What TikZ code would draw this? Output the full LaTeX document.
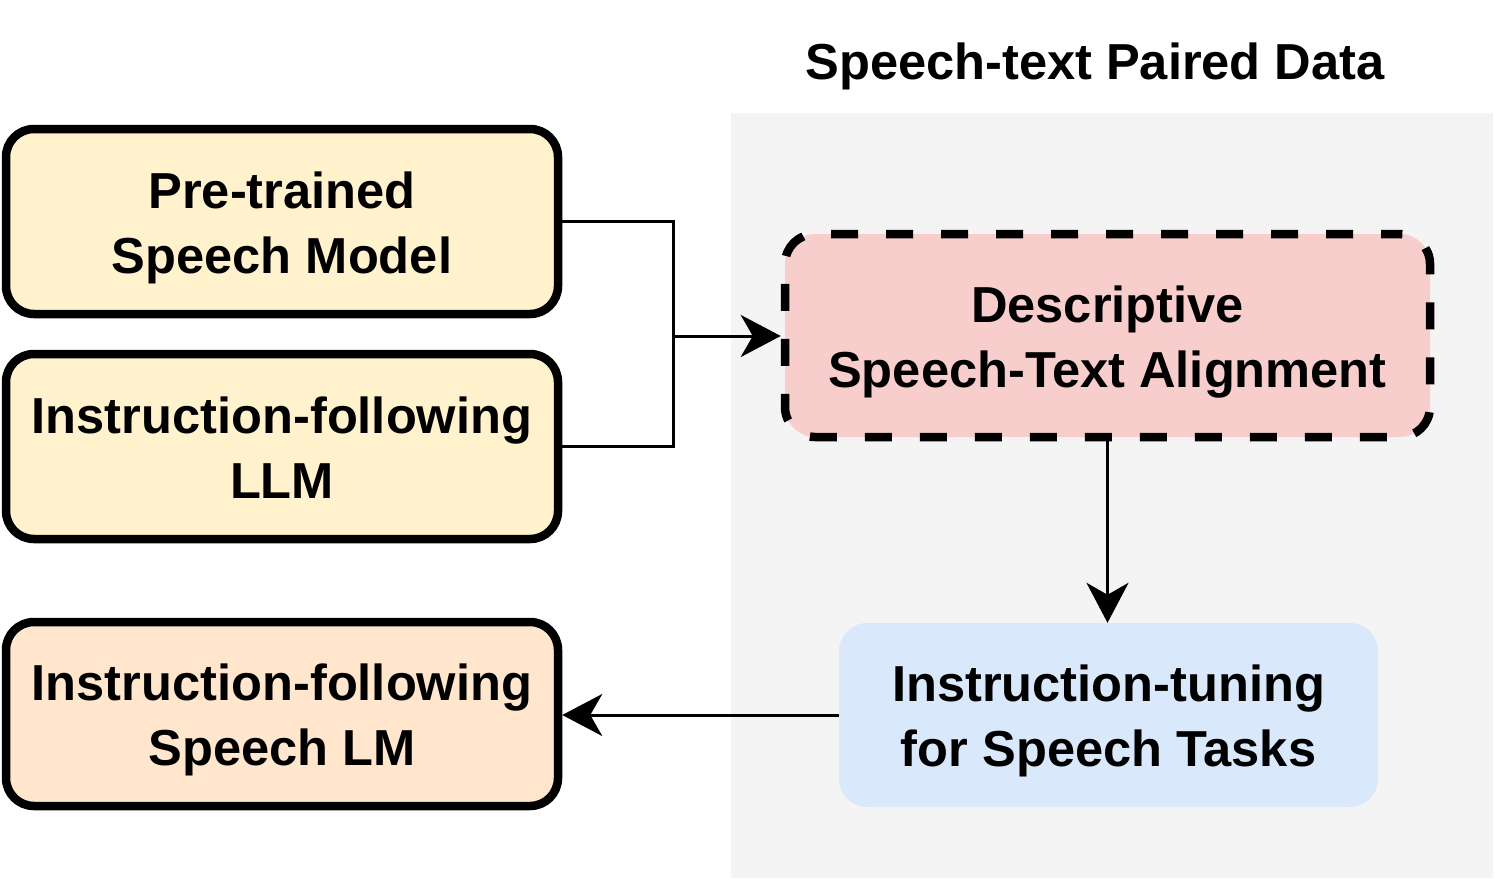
\documentclass[tikz,border=0pt]{standalone}
\usepackage{fontspec}
\setmainfont{Liberation Sans}
\usetikzlibrary{arrows.meta}
\definecolor{yel}{HTML}{FFF2CC}
\definecolor{ora}{HTML}{FFE6CC}
\definecolor{pnk}{HTML}{F8CECC}
\definecolor{blu}{HTML}{DAE8FC}
\definecolor{gry}{HTML}{F4F4F4}
\newcommand\topstrutx{\rule{0pt}{49pt}}
\newcommand\botstrutx{\rule[-11pt]{0pt}{11pt}}
\tikzset{
  txt/.style={font=\fontsize{50.6}{65}\selectfont\bfseries, align=center},
  solidbox/.style={txt, draw=black, line width=8.5pt, rounded corners=28pt, inner sep=0pt},
  dashbox/.style={txt, draw=black, line width=8.5pt, rounded corners=30pt, inner sep=0pt,
    dash pattern=on 27pt off 28pt, dash phase=8pt},
  plainbox/.style={txt, rounded corners=28pt, inner sep=0pt},
  conn/.style={line width=3pt},
  arr/.style={conn, -{Stealth[length=40pt,width=42pt,inset=12pt]}}
}
\begin{document}
\begin{tikzpicture}[x=1pt,y=-1pt]
\useasboundingbox (0,0) rectangle (1495,894);
\fill[gry] (731,113) rectangle (1493,878);
\node[txt] (title) at (1095,66) {Speech-text Paired Data};
\node[solidbox, fill=yel, minimum width=552pt, minimum height=185pt] (psm) at (282,221.5) {\topstrutx Pre-trained\\Speech Model\botstrutx};
\node[solidbox, fill=yel, minimum width=552pt, minimum height=185pt] (llm) at (282,446.5) {\topstrutx Instruction-following\\LLM\botstrutx};
\node[solidbox, fill=ora, minimum width=552pt, minimum height=184pt] (slm) at (282,714) {\topstrutx Instruction-following\\Speech LM\botstrutx};
\node[dashbox, fill=pnk, minimum width=645pt, minimum height=203pt] (dsta) at (1107.5,335.5) {\topstrutx Descriptive\\Speech-Text Alignment\botstrutx};
\node[plainbox, fill=blu, minimum width=539pt, minimum height=184pt] (itst) at (1108.5,715) {\topstrutx Instruction-tuning\\for Speech Tasks\botstrutx};
\coordinate (j) at (673,336);
\draw[conn] (psm.east) -| (j);
\draw[conn] (llm.east) -| (j);
\draw[arr] (j) -- (j -| dsta.west);
\draw[arr] (dsta.south) -- (dsta.south |- itst.north);
\draw[arr] (itst.west) -- (itst.west -| slm.east);
\end{tikzpicture}
\end{document}
